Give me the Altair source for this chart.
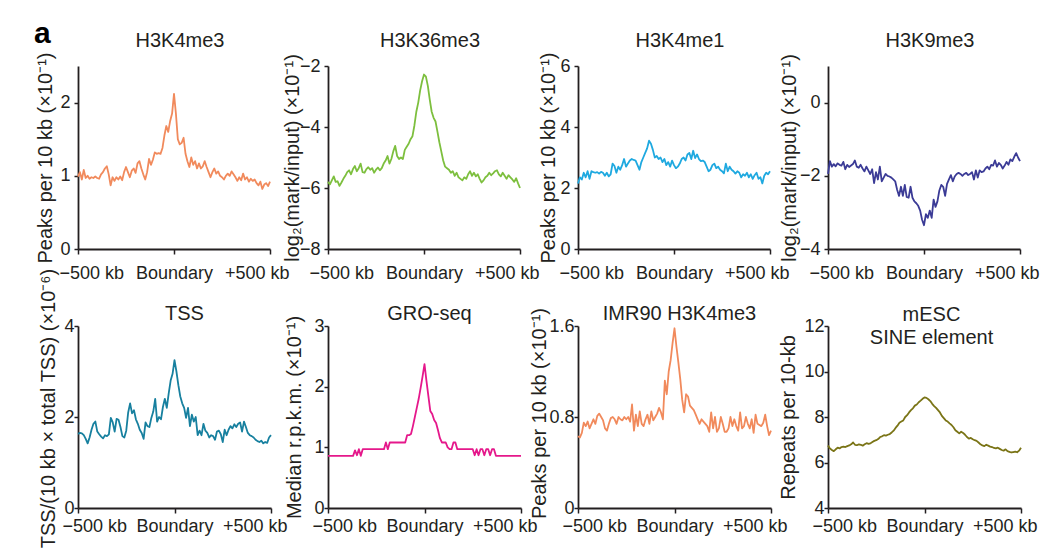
import altair as alt
import pandas as pd

# ---------------- data ----------------
positions = list(range(-500, 501, 10))  # kb from boundary, 10-kb bins

h3k4me3 = [0.99, 1.05, 0.95, 1.08, 0.97, 1.0, 0.96, 0.98, 0.97, 0.99,
           0.97, 0.96, 1.02, 1.05, 1.1, 1.13, 1.02, 0.87, 0.98, 0.93,
           0.98, 0.95, 0.99, 0.94, 1.05, 1.12, 1.05, 0.98, 1.07, 1.1,
           1.04, 1.17, 1.2, 1.1, 1.02, 0.95, 1.05, 1.23, 1.15, 1.22,
           1.32, 1.3, 1.31, 1.3, 1.38, 1.55, 1.68, 1.6, 1.75, 1.85,
           2.12, 1.85, 1.5, 1.43, 1.45, 1.52, 1.3, 1.2, 1.12, 1.25,
           1.15, 1.2, 1.1, 1.17, 1.1, 1.13, 1.2, 1.12, 1.05, 0.98,
           1.05, 1.1, 1.03, 1.06, 1.0, 0.98, 0.95, 1.0, 1.03, 1.0,
           1.06, 1.02, 0.98, 0.93, 0.98, 0.94, 1.03, 0.95, 0.98, 0.92,
           0.96, 0.93, 0.95, 0.9, 0.87, 0.92, 0.82, 0.88, 0.9, 0.86,
           0.92]

h3k36me3 = [-5.8, -5.88, -5.75, -5.62, -5.8, -5.78, -5.93, -5.82, -5.7, -5.6,
            -5.48, -5.42, -5.55, -5.38, -5.28, -5.45, -5.35, -5.2, -5.48, -5.5,
            -5.38, -5.32, -5.4, -5.35, -5.5, -5.4, -5.33, -5.42, -5.35, -5.2,
            -5.1, -4.95, -5.2, -5.05, -4.8, -4.62, -4.95, -5.05, -5.0, -5.05,
            -4.75, -4.65, -4.55, -4.4, -4.3, -3.95, -3.5, -3.2, -2.8, -2.5,
            -2.28, -2.35, -2.65, -3.1, -3.5, -3.7, -3.82, -4.15, -4.5, -4.8,
            -5.1, -5.3, -5.35, -5.4, -5.5, -5.45, -5.6, -5.5, -5.65, -5.7,
            -5.75, -5.65, -5.7, -5.55, -5.45, -5.6, -5.5, -5.62, -5.55, -5.7,
            -5.82, -5.75, -5.65, -5.6, -5.5, -5.58, -5.52, -5.45, -5.42, -5.55,
            -5.62, -5.5, -5.6, -5.7, -5.58, -5.65, -5.72, -5.8, -5.68, -5.85,
            -6.0]

h3k4me1 = [2.15, 2.35, 2.28, 2.5, 2.35, 2.55, 2.3, 2.55, 2.52, 2.5,
           2.52, 2.47, 2.53, 2.5, 2.4, 2.5, 2.38, 2.45, 2.8, 2.72,
           2.5, 2.7, 2.6, 2.75, 2.95, 2.7, 2.8, 2.9, 2.95, 2.92,
           2.9, 2.75, 2.6, 2.85, 3.0, 3.15, 3.3, 3.55, 3.45, 3.25,
           3.0, 3.05, 2.95, 3.0, 2.85, 2.95, 2.75, 2.85, 2.7, 2.9,
           2.75, 2.65, 2.7, 2.8, 2.95, 3.0, 2.9, 3.1, 3.15, 2.95,
           3.22, 2.98, 3.1, 2.95, 2.88, 2.9, 2.85, 2.7, 2.55, 2.6,
           2.75, 2.8, 2.65, 2.7, 2.6, 2.55, 2.48, 2.8, 2.55, 2.7,
           2.6, 2.55, 2.47, 2.55, 2.5, 2.35, 2.45, 2.4, 2.5, 2.35,
           2.45, 2.3, 2.42, 2.5, 2.3, 2.35, 2.15, 2.4, 2.5, 2.45,
           2.55]

h3k9me3 = [-1.95, -1.6, -1.75, -1.68, -1.74, -1.66, -1.7, -1.72, -1.62, -1.82,
           -1.7, -1.76, -1.72, -1.68, -1.58, -1.75, -1.78, -1.7, -1.8, -1.88,
           -1.75, -1.85, -1.95, -1.82, -2.2, -1.9, -2.1, -1.75, -2.15, -2.05,
           -1.95, -2.0, -2.02, -2.05, -2.1, -2.15, -2.38, -2.55, -2.3, -2.55,
           -2.25, -2.58, -2.6, -2.3, -2.6, -2.7, -2.75, -2.82, -2.95, -3.2,
           -3.35, -3.05, -3.15, -2.95, -3.15, -2.65, -2.85, -2.7, -2.4, -2.25,
           -2.3, -2.55, -2.22, -2.1, -1.98, -2.15, -2.02, -1.95, -1.92, -1.95,
           -2.0, -1.95, -1.92, -1.98, -1.95, -1.9, -2.1, -1.85, -2.05, -1.85,
           -1.9, -1.88, -1.8, -1.75, -1.82, -1.7, -1.72, -1.58, -1.75, -1.65,
           -1.7, -1.8, -1.72, -1.62, -1.7, -1.55, -1.6, -1.48, -1.38, -1.5,
           -1.6]

tss = [1.63, 1.65, 1.64, 1.6, 1.52, 1.42, 1.55, 1.72, 1.85, 1.9,
       1.68, 1.62, 1.57, 1.53, 1.6, 1.58, 1.62, 1.98, 1.88, 1.68,
       1.96, 1.94, 1.78, 1.58, 1.55, 1.7, 2.1, 2.3, 2.08, 2.15,
       1.95, 1.85, 1.72, 1.65, 1.52, 1.88, 1.8, 1.78, 1.98, 2.12,
       2.4, 1.9, 2.0, 1.95, 2.22, 2.4, 2.2, 2.52, 2.8, 2.95,
       3.25, 3.0, 2.7, 2.45, 2.3, 2.2, 1.98, 2.2, 1.8, 2.05,
       1.9, 2.0, 1.6, 1.7, 1.6, 1.85, 1.7, 1.65, 1.55, 1.6,
       1.58, 1.5, 1.68, 1.7, 1.62, 1.45, 1.72, 1.6, 1.72, 1.8,
       1.75, 1.84, 1.78, 1.85, 1.88, 1.68, 1.9, 1.78, 1.65, 1.6,
       1.58, 1.55, 1.5, 1.47, 1.45, 1.48, 1.42, 1.45, 1.43, 1.55,
       1.6]

gro_seq = [0.86, 0.86, 0.86, 0.86, 0.86, 0.86, 0.86, 0.86, 0.86, 0.86,
           0.86, 0.86, 0.86, 0.86, 0.95, 0.87, 0.97, 0.86, 0.97, 0.97,
           0.97, 0.97, 0.97, 0.97, 0.97, 0.97, 0.97, 0.97, 0.97, 0.97,
           1.08, 0.97, 1.08, 1.08, 1.08, 1.08, 1.08, 1.08, 1.08, 1.08,
           1.08, 1.2, 1.2, 1.22, 1.35, 1.5, 1.65, 1.8, 1.98, 2.17,
           2.37, 2.1, 1.85, 1.6, 1.55, 1.45, 1.4, 1.28, 1.15, 1.08,
           1.08, 1.08, 1.0, 0.97, 0.97, 1.08, 1.08, 0.97, 0.97, 0.97,
           0.97, 0.97, 0.97, 0.97, 0.97, 0.97, 0.87, 0.97, 0.87, 0.97,
           0.97, 0.87, 0.97, 0.97, 0.87, 0.97, 0.97, 0.86, 0.86, 0.86,
           0.86, 0.86, 0.86, 0.86, 0.86, 0.86, 0.86, 0.86, 0.86, 0.86,
           0.86]

imr90_h3k4me3 = [0.63, 0.62, 0.66, 0.75, 0.72, 0.76, 0.7, 0.74, 0.78, 0.74,
                 0.81, 0.83, 0.8, 0.77, 0.7, 0.68, 0.74, 0.79, 0.8, 0.78,
                 0.74, 0.8, 0.78, 0.77, 0.8, 0.78, 0.8, 0.76, 0.91, 0.68,
                 0.82, 0.72, 0.85, 0.74, 0.72, 0.78, 0.82, 0.74, 0.85, 0.77,
                 0.8, 0.83, 0.88, 0.84, 0.78, 1.12, 1.0, 1.2, 1.3, 1.45,
                 1.58, 1.42, 1.28, 1.13, 0.95, 0.84, 1.0, 0.98, 0.9, 0.88,
                 0.86, 0.82, 0.78, 0.74, 0.78, 0.76, 0.74, 0.72, 0.67, 0.84,
                 0.7, 0.8, 0.67, 0.7, 0.8, 0.74, 0.67, 0.67, 0.7, 0.8,
                 0.72, 0.78, 0.72, 0.68, 0.84, 0.7, 0.72, 0.8, 0.74, 0.7,
                 0.78, 0.66, 0.82, 0.74, 0.73, 0.72, 0.75, 0.82, 0.72, 0.64,
                 0.68]

mesc_sine = [6.75, 6.62, 6.55, 6.5, 6.58, 6.65, 6.62, 6.68, 6.7, 6.68,
             6.72, 6.75, 6.8, 6.88, 6.78, 6.76, 6.8, 6.78, 6.74, 6.8,
             6.85, 6.82, 6.84, 6.9, 6.95, 6.98, 7.03, 7.12, 7.15, 7.2,
             7.18, 7.22, 7.25, 7.32, 7.4, 7.52, 7.62, 7.75, 7.8, 7.85,
             8.0, 8.08, 8.2, 8.3, 8.38, 8.5, 8.55, 8.65, 8.72, 8.8,
             8.86, 8.84, 8.78, 8.7, 8.58, 8.48, 8.4, 8.3, 8.2, 8.05,
             7.95, 7.85, 7.8, 7.72, 7.65, 7.55, 7.42, 7.35, 7.28, 7.35,
             7.3, 7.22, 7.12, 7.05, 7.08, 7.02, 6.98, 6.95, 6.88, 6.8,
             6.75, 6.72, 6.78, 6.74, 6.7, 6.68, 6.64, 6.62, 6.65, 6.6,
             6.55, 6.52, 6.58, 6.5, 6.47, 6.44, 6.46, 6.48, 6.45, 6.52,
             6.65]

series = [h3k4me3, h3k36me3, h3k4me1, h3k9me3, tss, gro_seq, imr90_h3k4me3, mesc_sine]

panel_titles = ["H3K4me3", "H3K36me3", "H3K4me1", "H3K9me3",
                "TSS", "GRO-seq", "IMR90 H3K4me3", "mESC\nSINE element"]
y_titles = ["Peaks per 10 kb (×10⁻¹)", "log₂(mark/input) (×10⁻¹)",
            "Peaks per 10 kb (×10⁻¹)", "log₂(mark/input) (×10⁻¹)",
            "TSS/(10 kb × total TSS) (×10⁻⁶)", "Median r.p.k.m. (×10⁻¹)",
            "Peaks per 10 kb (×10⁻¹)", "Repeats per 10-kb"]
y_domains = [[0, 2.5], [-8, -2], [0, 6], [-4, 1], [0, 4], [0, 3], [0, 1.6], [4, 12]]
y_ticks = [[0, 1, 2], [-8, -6, -4, -2], [0, 2, 4, 6], [-4, -2, 0],
           [0, 2, 4], [0, 1, 2, 3], [0, 0.8, 1.6], [4, 6, 8, 10, 12]]
colors = ["#F18A5C", "#7DBF3E", "#1FA9E0", "#3B3B96",
          "#17809F", "#E5188B", "#F18A5C", "#7A7416"]
x_tick_values = [-500, 0, 500]
x_tick_labels = ["−500 kb", "Boundary", "+500 kb"]

# ---------------- styling / layout ----------------
FONT = "Liberation Sans"
INK = "#231F20"
y_title_x = [-27, -30, -24, -33, -24, -28, -33, -34]
y_title_shift = [0, 0, 0, 0, -9, 0, -4, 0]   # along-axis shift of the y title (px, up is negative)
title_dx = [6, 6, 6, 6, 10, 5, 5, 7]
title_dy = [-19, -19, -19, -19, -6, -6, -6, -5]

label_expr = (f"datum.value == {x_tick_values[0]} ? '{x_tick_labels[0]}' : "
              f"datum.value == {x_tick_values[1]} ? '{x_tick_labels[1]}' : '{x_tick_labels[2]}'")


def make_panel(i):
    row = 0 if i < 4 else 1
    w = 192 if row == 0 else 193
    h = 183 if row == 0 else 182
    df = pd.DataFrame({"pos": positions, "val": series[i]})

    x_axis = alt.Axis(values=x_tick_values, labelExpr=label_expr, title=None,
                      labelFlush=True, labelFlushOffset=19 if row == 0 else 16,
                      tickSize=5, labelPadding=10 if row == 0 else 4,
                      labelOverlap=False, grid=False)
    y_kwargs = dict(values=y_ticks[i], format="~g", title=y_titles[i],
                    titleX=y_title_x[i], titleBaseline="alphabetic", titleAngle=-90,
                    tickSize=4, labelPadding=4 if row == 0 else 0,
                    labelOverlap=False, grid=False)
    if y_title_shift[i]:
        y_kwargs["titleY"] = h / 2 + y_title_shift[i]
    y_axis = alt.Axis(**y_kwargs)

    line = alt.Chart(df).mark_line(color=colors[i], strokeWidth=1.8, strokeJoin="round").encode(
        x=alt.X("pos:Q", scale=alt.Scale(domain=[-500, 500], nice=False, zero=False), axis=x_axis),
        y=alt.Y("val:Q", scale=alt.Scale(domain=y_domains[i], nice=False, zero=False), axis=y_axis),
    )
    ttl = alt.Chart(pd.DataFrame({"t": [panel_titles[i]]})).mark_text(
        font=FONT, fontSize=20, color=INK, align="center", baseline="alphabetic",
        lineBreak="\n", lineHeight=23,
    ).encode(x=alt.value(w / 2 + title_dx[i]), y=alt.value(title_dy[i]), text="t:N")
    layers = [line, ttl]
    if i == 0:
        letter = alt.Chart(pd.DataFrame({"t": ["a"]})).mark_text(
            font=FONT, fontSize=30, fontWeight="bold", color="#000000",
            align="left", baseline="alphabetic",
        ).encode(x=alt.value(-44), y=alt.value(-23), text="t:N")
        layers.append(letter)
    return alt.layer(*layers).properties(width=w, height=h)


panels = [make_panel(i) for i in range(8)]

chart = alt.concat(
    *panels, columns=4, spacing={"row": 77, "column": 57}, bounds="flush"
).properties(
    autosize=alt.AutoSizeParams(type="none"),
    padding={"left": 78, "top": 66, "right": 975, "bottom": 489},
    background="white",
).configure_view(
    stroke=None
).configure_axis(
    domainColor=INK, domainWidth=1.8, tickColor=INK, tickWidth=1.5,
    labelFont=FONT, labelFontSize=18, labelColor=INK,
    titleFont=FONT, titleFontSize=20, titleFontWeight="normal", titleColor=INK,
)

chart.save("out.html", embed_options={"renderer": "svg", "actions": False})
